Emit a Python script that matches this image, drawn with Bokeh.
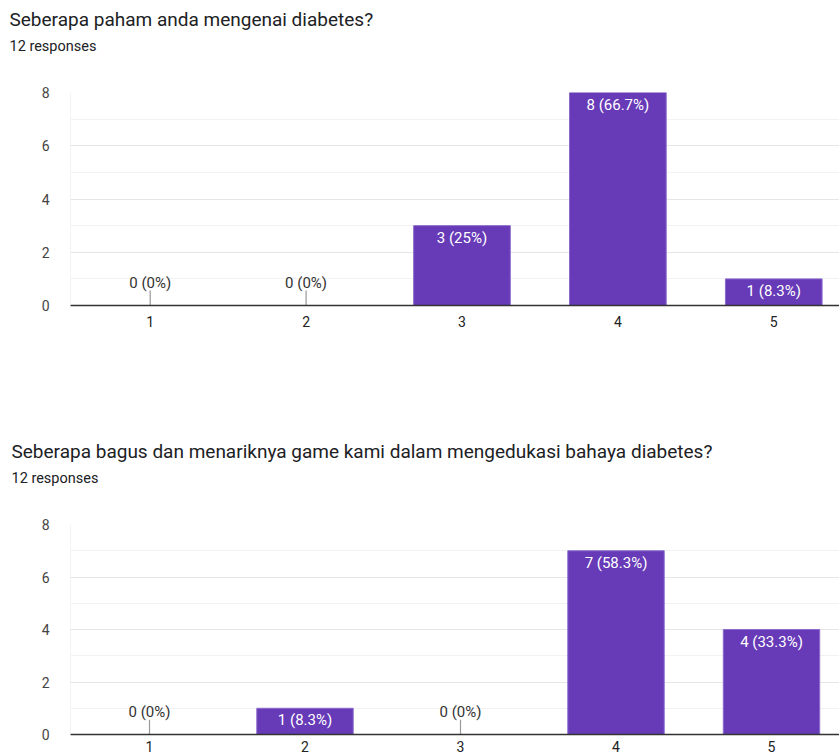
from bokeh.plotting import figure
from bokeh.layouts import column
from bokeh.models import Title, FixedTicker, Span, ColumnDataSource
from bokeh.core.properties import value
from bokeh.embed import file_html
from bokeh.resources import INLINE

categories = [1, 2, 3, 4, 5]
tick_labels = ["1", "2", "3", "4", "5"]
q1_title = "Seberapa paham anda mengenai diabetes?"
q1_counts = [0, 0, 3, 8, 1]
q2_title = "Seberapa bagus dan menariknya game kami dalam mengedukasi bahaya diabetes?"
q2_counts = [0, 1, 0, 7, 4]
responses = 12
y_ticks = [0, 2, 4, 6, 8]
y_minor = [1, 3, 5, 7]

PURPLE = "#673ab7"
FONT = "Roboto"


def fmt(c, total):
    pct = round(c * 100 / total, 1)
    s = f"{pct:.1f}".rstrip("0").rstrip(".")
    return f"{c} ({s}%)"


def make_chart(title, counts, height, x_start, x_end, border_left, border_bottom,
               title_offset, main_standoff, sub_standoff, gap_standoff, axis_standoff):
    p = figure(width=839, height=height, x_range=(x_start, x_end), y_range=(0, 8),
               output_backend="svg", toolbar_location=None,
               min_border_left=border_left, min_border_right=0,
               min_border_top=0, min_border_bottom=border_bottom,
               background_fill_color="white", border_fill_color="white")
    p.outline_line_color = None

    p.title.text = title
    p.title.text_font = FONT
    p.title.text_font_size = "19px"
    p.title.text_font_style = "normal"
    p.title.text_color = "#202124"
    p.title.align = "left"
    p.title.offset = title_offset
    p.title.standoff = main_standoff
    # spacer nearest the frame, then the subtitle
    gap = Title(text=" ", text_font=FONT, text_font_size="1px", align="left",
                standoff=gap_standoff)
    p.add_layout(gap, "above")
    sub = Title(text=f"{responses} responses", text_font=FONT, text_font_size="14.5px",
                text_font_style="normal", text_color="#202124", align="left",
                offset=title_offset, standoff=sub_standoff)
    p.add_layout(sub, "above")

    # grids
    p.xgrid.grid_line_color = None
    ticker = FixedTicker(ticks=y_ticks, minor_ticks=y_minor)
    p.yaxis.ticker = ticker
    p.ygrid.ticker = ticker
    p.ygrid.grid_line_color = "#e6e6e6"
    p.ygrid.minor_grid_line_color = "#f2f2f2"

    # left frame edge
    p.add_layout(Span(location=x_start, dimension="height", line_color="#e6e6e6", line_width=1))

    # axes
    p.yaxis.axis_line_color = None
    p.yaxis.major_tick_line_color = None
    p.yaxis.minor_tick_line_color = None
    p.yaxis.major_label_text_font = FONT
    p.yaxis.major_label_text_font_size = "14px"
    p.yaxis.major_label_text_color = "#444444"
    p.yaxis.major_label_standoff = 15

    p.xaxis.ticker = FixedTicker(ticks=categories)
    p.xaxis.major_label_overrides = {c: t for c, t in zip(categories, tick_labels)}
    p.xaxis.axis_line_color = "#333333"
    p.xaxis.axis_line_width = 1.5
    p.xaxis.major_tick_line_color = None
    p.xaxis.minor_tick_line_color = None
    p.xaxis.major_label_text_font = FONT
    p.xaxis.major_label_text_font_size = "14px"
    p.xaxis.major_label_text_color = "#222222"
    p.xaxis.major_label_standoff = axis_standoff

    labels = [fmt(c, responses) for c in counts]
    bars = ColumnDataSource(dict(x=[c for c, v in zip(categories, counts) if v > 0],
                                 top=[v for v in counts if v > 0],
                                 label=[l for l, v in zip(labels, counts) if v > 0]))
    zeros = ColumnDataSource(dict(x=[c for c, v in zip(categories, counts) if v == 0],
                                  y=[v for v in counts if v == 0],
                                  stub=[0.56 for v in counts if v == 0],
                                  label=[l for l, v in zip(labels, counts) if v == 0]))

    p.vbar(x="x", top="top", bottom=0, width=0.62, source=bars,
           fill_color=PURPLE, line_color="#8c6bcc", line_width=1)
    p.text(x="x", y="top", text="label", source=bars, text_color="white",
           text_font=value(FONT), text_font_size="15px", text_align="center",
           text_baseline="top", y_offset=3)

    p.segment(x0="x", y0="y", x1="x", y1="stub", source=zeros,
              line_color="#999999", line_width=1.2)
    p.text(x="x", y="stub", text="label", source=zeros, text_color="#333333",
           text_font=value(FONT), text_font_size="15px", text_align="center",
           text_baseline="bottom", y_offset=1)
    return p


p1 = make_chart(q1_title, q1_counts, height=432,
                x_start=1 - 80 / 156.5, x_end=1 + (839 - 147) / 156.5,
                border_left=67, border_bottom=127,
                title_offset=-61, main_standoff=10, sub_standoff=0, gap_standoff=35,
                axis_standoff=4)
p2 = make_chart(q2_title, q2_counts, height=322,
                x_start=1 - 79 / 155.5, x_end=1 + (839 - 149) / 155.5,
                border_left=70, border_bottom=18,
                title_offset=-59, main_standoff=10, sub_standoff=0, gap_standoff=35,
                axis_standoff=0)

layout = column(p1, p2, spacing=0)
open("out.html", "w").write(file_html(layout, INLINE))
